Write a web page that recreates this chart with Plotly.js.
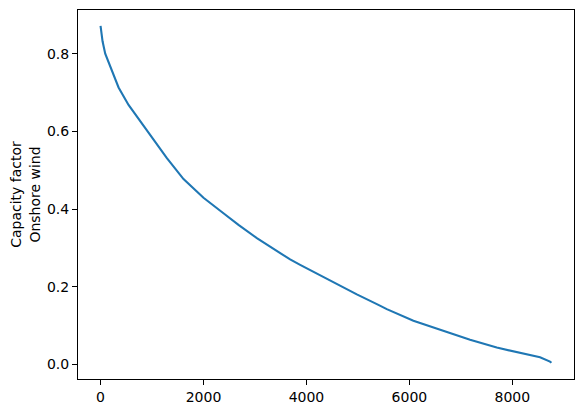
<!DOCTYPE html>
<html>
<head>
<meta charset="utf-8">
<script src="https://cdn.plot.ly/plotly-3.0.1.min.js"></script>
<style>html,body{margin:0;padding:0;background:#fff;}#chart{width:583px;height:413px;}</style>
</head>
<body>
<div id="chart"></div>
<script>
// Hours (sorted, duration curve) and capacity factor
var hours = [0, 39, 91, 188, 350, 544, 773, 1029, 1289, 1612, 1839, 2000, 2388, 2680, 3037, 3489, 3683, 3878, 4008, 4330, 4654, 4979, 5398, 5561, 6078, 6596, 7179, 7697, 8214, 8538, 8732, 8760];
var capacityFactor = [0.872, 0.832, 0.800, 0.767, 0.713, 0.668, 0.625, 0.578, 0.531, 0.477, 0.449, 0.429, 0.389, 0.359, 0.325, 0.285, 0.270, 0.256, 0.247, 0.225, 0.201, 0.180, 0.153, 0.142, 0.112, 0.088, 0.063, 0.043, 0.028, 0.018, 0.007, 0.004];
var xTicks = [0, 2000, 4000, 6000, 8000];
var yTicks = [0.0, 0.2, 0.4, 0.6, 0.8];
var yTickLabels = ['0.0', '0.2', '0.4', '0.6', '0.8'];

var trace = {
  x: hours,
  y: capacityFactor,
  type: 'scatter',
  mode: 'lines',
  line: {color: '#1f77b4', width: 2.1},
  hoverinfo: 'skip'
};

var font = {family: 'DejaVu Sans', size: 14, color: '#000'};
var layout = {
  width: 583,
  height: 413,
  margin: {l: 78, r: 9, t: 10, b: 34, pad: 0},
  paper_bgcolor: '#fff',
  plot_bgcolor: '#fff',
  showlegend: false,
  font: font,
  xaxis: {
    range: [-438, 9198],
    tickvals: xTicks,
    ticks: 'outside', ticklen: 5, tickwidth: 1, tickcolor: '#000',
    showline: true, linecolor: '#000', linewidth: 1, mirror: true,
    showgrid: false, zeroline: false,
    tickfont: font
  },
  yaxis: {
    range: [-0.0379, 0.9126],
    tickvals: yTicks,
    ticktext: yTickLabels,
    ticks: 'outside', ticklen: 5, tickwidth: 1, tickcolor: '#000',
    showline: true, linecolor: '#000', linewidth: 1, mirror: true,
    showgrid: false, zeroline: false,
    tickfont: font,
    title: {text: 'Capacity factor<br>Onshore wind', font: font, standoff: 3}
  }
};

Plotly.newPlot('chart', [trace], layout, {staticPlot: true, displayModeBar: false});
</script>
</body>
</html>
